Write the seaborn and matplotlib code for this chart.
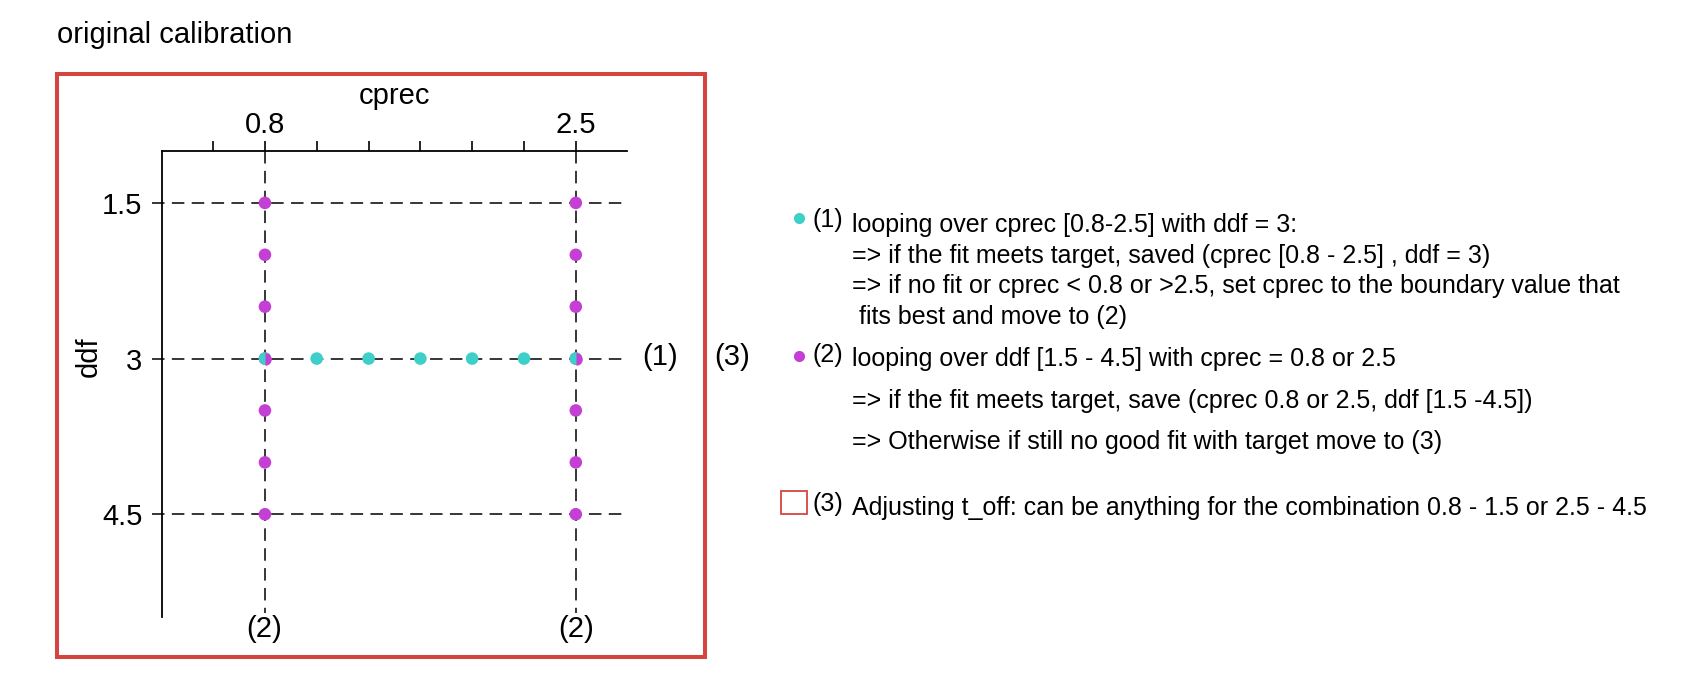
import matplotlib.pyplot as plt
import seaborn as sns
import pandas as pd
from matplotlib.patches import Rectangle

# step (1): loop over cprec at fixed ddf
cprec_steps = [0.8, 1.083, 1.367, 1.65, 1.933, 2.217, 2.5]
ddf_fixed = 3.0
# step (2): loop over ddf at the cprec boundaries
cprec_bounds = [0.8, 2.5]
ddf_steps = [1.5, 2.0, 2.5, 3.0, 3.5, 4.0, 4.5]
# dashed guides
ddf_guides = [1.5, 3.0, 4.5]

cprec_ticks = [0.517, 0.8, 1.083, 1.367, 1.65, 1.933, 2.217, 2.5]
cprec_ticklabels = ["", "0.8", "", "", "", "", "", "2.5"]
ddf_ticks = [1.5, 2.0, 2.5, 3.0, 3.5, 4.0, 4.5, 5.0]
ddf_ticklabels = ["1.5", "", "", "3", "", "", "4.5", ""]

step_labels = ["(1)", "(2)", "(3)"]
notes_1 = ["looping over cprec [0.8-2.5] with ddf = 3:",
           "=> if the fit meets target, saved (cprec [0.8 - 2.5] , ddf = 3)",
           "=> if no fit or cprec < 0.8 or >2.5, set cprec to the boundary value that",
           " fits best and move to (2)"]
notes_2 = ["looping over ddf [1.5 - 4.5] with cprec = 0.8 or 2.5",
           "=> if the fit meets target, save (cprec 0.8 or 2.5, ddf [1.5 -4.5])",
           "=> Otherwise if still no good fit with target move to (3)"]
notes_3 = ["Adjusting t_off: can be anything for the combination 0.8 - 1.5 or 2.5 - 4.5"]

CYAN = "#3ecfc9"
MAGENTA = "#c43fd3"
RED = "#d64440"

sns.set_theme(style="white")
plt.rcParams["font.family"] = ["Liberation Sans", "DejaVu Sans"]
plt.rcParams["text.color"] = "black"
plt.rcParams["axes.labelcolor"] = "black"
plt.rcParams["lines.scale_dashes"] = False

rows = [{"cprec": c, "ddf": d, "step": "2"} for c in cprec_bounds for d in ddf_steps]
rows += [{"cprec": c, "ddf": ddf_fixed, "step": "1"} for c in cprec_steps]
df = pd.DataFrame(rows)

W, H = 1702, 691
fig = plt.figure(figsize=(W / 100, H / 100), dpi=100)
ax = fig.add_axes([162 / W, 1 - 617 / H, 465 / W, 466 / H])

dash = (0, (9, 5.3))
for d in ddf_guides:
    ax.plot([0.18, 2.78], [d, d], color="black", lw=1.1, ls=dash, clip_on=False, zorder=1)
for c in cprec_bounds:
    ax.plot([c, c], [1.0, 5.45], color="black", lw=1.1, ls=dash, clip_on=False, zorder=1)

sns.scatterplot(data=df, x="cprec", y="ddf", hue="step", palette={"1": CYAN, "2": MAGENTA},
                s=82, linewidth=0, legend=False, ax=ax, zorder=3)
# points shared by both loops: right half magenta
shared = df[df.step == "1"].merge(df[df.step == "2"], on=["cprec", "ddf"])
ax.plot(shared.cprec, shared.ddf, ls="none", marker="o", ms=9, fillstyle="right",
        markerfacecolor=MAGENTA, markerfacecoloralt="none", mew=0, zorder=4)

ax.set_xlim(0.237, 2.78)
ax.set_ylim(5.49, 1.0)
for s in ["right", "bottom"]:
    ax.spines[s].set_visible(False)
for s in ["top", "left"]:
    ax.spines[s].set_linewidth(1.3)
    ax.spines[s].set_color("black")
ax.xaxis.tick_top()
ax.set_xticks(cprec_ticks, cprec_ticklabels)
ax.set_yticks(ddf_ticks, ddf_ticklabels)
ax.tick_params(axis="x", direction="out", length=7.2, width=1.2, labelsize=21, pad=1.5,
               colors="black")
ax.tick_params(axis="y", direction="out", length=7.2, width=1.2, labelsize=21, pad=7,
               colors="black")
ax.xaxis.set_label_position("top")
ax.set_xlabel("cprec", fontsize=21, va="baseline")
ax.xaxis.set_label_coords(0.5, (617 - 104) / 466)
ax.set_ylabel("ddf", fontsize=21, va="baseline", ha="center")
ax.yaxis.set_label_coords((97 - 162) / 465, (617 - 357) / 466)
ax.patch.set_visible(False)

# overlay in pixel units for the annotations
ov = fig.add_axes([0, 0, 1, 1], zorder=5)
ov.set_xlim(0, W)
ov.set_ylim(H, 0)
ov.axis("off")
ov.patch.set_visible(False)

ov.text(57, 43, "original calibration", fontsize=21, va="baseline", ha="left")
ov.add_patch(Rectangle((56.5, 73.5), 648.5, 583.5, fill=False, ec=RED, lw=2.9))
ov.text(660, 357, step_labels[0], fontsize=21, ha="center", va="center")
ov.text(732, 357, step_labels[2], fontsize=21, ha="center", va="center")
for xp in [264, 576]:
    ov.text(xp, 629, step_labels[1], fontsize=21, ha="center", va="center")

fs = 18
ov.plot([799], [218], "o", color=CYAN, ms=8, mew=0)
ov.plot([799], [356], "o", color=MAGENTA, ms=8, mew=0)
ov.add_patch(Rectangle((781, 491), 26, 23, fill=False, ec=RED, lw=1.3))
for lab, yb in zip(step_labels, [227, 362, 511]):
    ov.text(813, yb, lab, fontsize=fs, va="baseline", ha="left")
for txt, yb in zip(notes_1, [232, 263, 293, 324]):
    ov.text(852, yb, txt, fontsize=fs, va="baseline", ha="left")
for txt, yb in zip(notes_2, [366, 408, 449]):
    ov.text(852, yb, txt, fontsize=fs, va="baseline", ha="left")
for txt, yb in zip(notes_3, [515]):
    ov.text(852, yb, txt, fontsize=fs, va="baseline", ha="left")

fig.savefig("out.png", dpi=100)
